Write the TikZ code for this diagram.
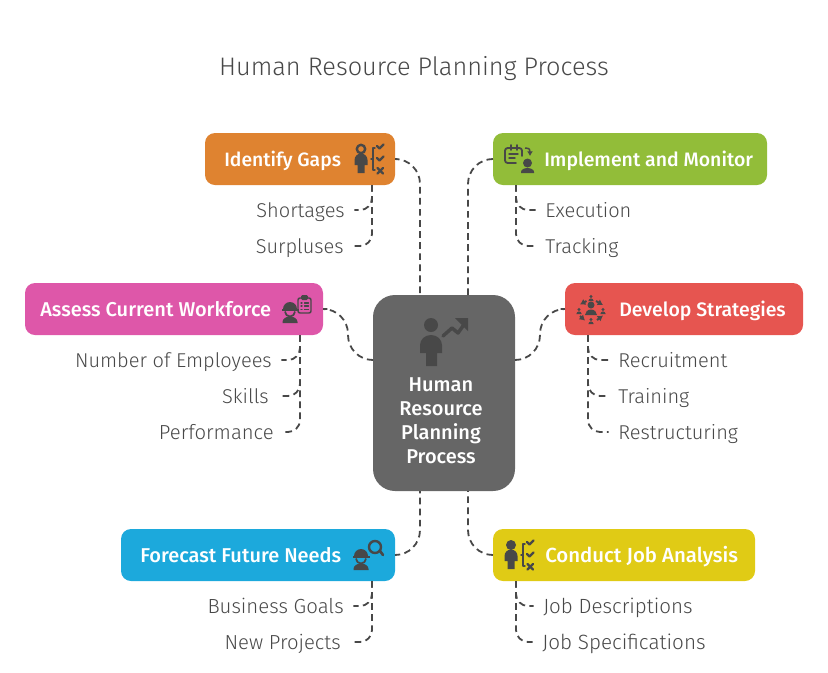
\documentclass[tikz,border=0pt]{standalone}
\usepackage{fontspec}
\setmainfont{Fira Sans Light}
\newfontfamily\boxfont{Fira Sans Medium}
\usepackage{tikz}
\usetikzlibrary{arrows,arrows.meta}

\definecolor{gapsc}{HTML}{DF8330}
\definecolor{monitorc}{HTML}{92BD39}
\definecolor{assessc}{HTML}{DE57A9}
\definecolor{strategyc}{HTML}{E65550}
\definecolor{forecastc}{HTML}{1CA9DC}
\definecolor{analysisc}{HTML}{E0CB15}
\definecolor{hubc}{HTML}{666666}
\definecolor{inkc}{HTML}{484848}

\tikzset{
	topicbox/.style={rounded corners=7.5pt,minimum height=39pt,inner sep=0pt},
	topictext/.style={font=\boxfont\fontsize{#1}{18}\selectfont,text=white,inner sep=0pt},
	topictext/.default=15,
	subtext/.style={font=\fontsize{#1}{18}\selectfont,text=inkc,inner sep=0pt},
	subtext/.default=15,
	link/.style={draw=inkc,line width=1.35pt,dash pattern=on 5pt off 3.3pt,rounded corners=18.7pt},
	sublink/.style={draw=inkc,line width=1.35pt,dash pattern=on 5pt off 3.3pt,rounded corners=9pt,shorten >=7pt},
	glyph/.style={fill=inkc,draw=none},
	glyphline/.style={draw=inkc,line width=1.1pt,fill=none,line cap=round,line join=round},
	ringarrow/.style={draw=inkc,line width=1.5pt,line cap=butt,-{Latex[length=4pt,width=5pt]}},
	pics/staff/.style={code={
		\path[glyph] (-6.5,16) -- (-6.5,11) arc[start angle=180,end angle=360,radius=6.5] -- (6.5,16) -- (3.5,16) -- (3.5,24) -- (-3.5,24) -- (-3.5,16) -- cycle;
		\draw[glyphline] (14,-1) -- (12,-1) -- (12,21) -- (14,21);
		\draw[glyphline] (12,10) -- (10,10);
		\draw[glyphline,line width=1.7pt] (16,-3) -- (18.5,-0.5) -- (22.5,-4.5);
		\draw[glyphline,line width=1.7pt] (16,9) -- (18.5,11.5) -- (22.5,7.5);
		\draw[glyphline,line width=1.7pt] (16.5,19) -- (22,24.5);
		\draw[glyphline,line width=1.7pt] (22,19) -- (16.5,24.5);
	}},
	pics/worker/.style={code={
		\path[glyph] (-7,-14) arc[start angle=180,end angle=360,radius=7] -- cycle;
		\path[glyph] (-8.5,-14.5) rectangle (8.5,-12.5);
		\draw[glyphline,line width=1.3pt,line cap=butt] (-5,-11.5) arc[start angle=180,end angle=0,radius=5];
		\path[glyph] (-7.5,0) -- (-7.5,-1) arc[start angle=180,end angle=360,x radius=7.5,y radius=5.5] -- (7.5,0) -- cycle;
	}},
	pics/tinyman/.style={code={
		\path[glyph] (0,-1.5) circle[radius=1.6];
		\path[glyph] (-2.6,3) arc[start angle=180,end angle=360,x radius=2.6,y radius=2.6] -- cycle;
	}}
}

\begin{document}
\begin{tikzpicture}[x=0.75pt,y=-0.75pt]
	\useasboundingbox (0,0) rectangle (828,672);

	\node[font=\fontsize{19}{23}\selectfont,text=inkc,inner sep=0pt,anchor=base] (title) at (414,75) {Human Resource Planning Process};

	% main boxes
	\node[topicbox,fill=hubc,rounded corners=16.5pt,minimum width=106.5pt,minimum height=147pt] (hub) at (444,393) {};
	\node[topicbox,fill=gapsc,minimum width=142.5pt] (gaps) at (300,159) {};
	\node[topicbox,fill=monitorc,minimum width=205.5pt] (monitor) at (630,159) {};
	\node[topicbox,fill=assessc,minimum width=223.5pt] (assess) at (174,309) {};
	\node[topicbox,fill=strategyc,minimum width=178.5pt] (strategy) at (684,309) {};
	\node[topicbox,fill=forecastc,minimum width=205.5pt] (forecast) at (258,555) {};
	\node[topicbox,fill=analysisc,minimum width=196.5pt] (analysis) at (624,555) {};

	% texts in the boxes
	\node[topictext=14.5,anchor=base west] (gapstext) at (224,166) {Identify Gaps};
	\node[topictext=14.6,anchor=base west] (monitortext) at (544,166) {Implement and Monitor};
	\node[topictext,anchor=base west] (assesstext) at (40,316) {Assess Current Workforce};
	\node[topictext=14.6,anchor=base west] (strategytext) at (619,316) {Develop Strategies};
	\node[topictext,anchor=base west] (forecasttext) at (140,562) {Forecast Future Needs};
	\node[topictext=15.3,anchor=base west] (analysistext) at (545,562) {Conduct Job Analysis};
	\node[topictext,align=center,font=\boxfont\fontsize{15}{18}\selectfont] (hubtext) at (441,421) {Human\\Resource\\Planning\\Process};

	% leaf texts
	\node[subtext,anchor=base east] (shortages) at (345,217) {Shortages};
	\node[subtext,anchor=base east] (surpluses) at (344,253) {Surpluses};
	\node[subtext,anchor=base west] (execution) at (545,217) {Execution};
	\node[subtext,anchor=base west] (tracking) at (545,253) {Tracking};
	\node[subtext,anchor=base east] (employees) at (272,367) {Number of Employees};
	\node[subtext,anchor=base east] (skills) at (269,403) {Skills};
	\node[subtext=15.2,anchor=base east] (performance) at (274,439) {Performance};
	\node[subtext,anchor=base west] (recruitment) at (618,367) {Recruitment};
	\node[subtext,anchor=base west] (training) at (618,403) {Training};
	\node[subtext,anchor=base west] (restructuring) at (618,439) {Restructuring};
	\node[subtext=15.3,anchor=base east] (goals) at (344,613) {Business Goals};
	\node[subtext=15.2,anchor=base east] (projects) at (341,649) {New Projects};
	\node[subtext=15.4,anchor=base west] (descriptions) at (543,613) {Job Descriptions};
	\node[subtext=15.5,anchor=base west] (specifications) at (542,649) {Job Specifications};

	% joints on the hub
	\coordinate (hubnl) at (420,295);
	\coordinate (hubnr) at (468,295);
	\coordinate (hubsl) at (420,491);
	\coordinate (hubsr) at (468,491);
	\coordinate (hubwa) at (373,360);
	\coordinate (hubea) at (515,360);
	\coordinate (assessbend) at (348,360);
	\coordinate (strategybend) at (540,360);

	% links to the hub
	\draw[link] ([xshift=1.5pt]gaps.east) -| (hubnl);
	\draw[link] (monitor.west) -| (hubnr);
	\draw[link] ([xshift=3pt]assess.east) -| (assessbend) -- (hubwa);
	\draw[link] ([xshift=-3pt]strategy.west) -| (strategybend) -- (hubea);
	\draw[link] ([xshift=1pt]forecast.east) -| (hubsl);
	\draw[link] (analysis.west) -| (hubsr);

	% trunks
	\coordinate (gapsfoot) at (372,185);
	\coordinate (monitorfoot) at (516,185);
	\coordinate (assessfoot) at (300,335);
	\coordinate (strategyfoot) at (588,335);
	\coordinate (forecastfoot) at (372,581);
	\coordinate (analysisfoot) at (516,581);

	\draw[sublink] (gapsfoot) |- (surpluses.east |- 0,246);
	\draw[sublink] (gapsfoot) |- (shortages.east |- 0,210);
	\draw[sublink] (monitorfoot) |- (tracking.west |- 0,246);
	\draw[sublink] (monitorfoot) |- (execution.west |- 0,210);
	\draw[sublink] (assessfoot) |- (performance.east |- 0,432);
	\draw[sublink] (assessfoot) |- (skills.east |- 0,396);
	\draw[sublink] (assessfoot) |- (employees.east |- 0,360);
	\draw[sublink] (strategyfoot) |- (restructuring.west |- 0,432);
	\draw[sublink] (strategyfoot) |- (training.west |- 0,396);
	\draw[sublink] (strategyfoot) |- (recruitment.west |- 0,360);
	\draw[sublink] (forecastfoot) |- (projects.east |- 0,642);
	\draw[sublink] (forecastfoot) |- (goals.east |- 0,606);
	\draw[sublink] (analysisfoot) |- (specifications.west |- 0,642);
	\draw[sublink] (analysisfoot) |- (descriptions.west |- 0,606);

	% icon of the hub
	\path[glyph] (431,325) circle[radius=7];
	\path[glyph] (420,353) -- (420,345) arc[start angle=180,end angle=360,x radius=11,y radius=10] -- (442,353) -- (437,353) -- (437,366) -- (426,366) -- (426,353) -- cycle;
	\draw[glyphline,line width=2.6pt] (443,336) -- (452,328) -- (458,333) -- (463,326);
	\path[glyph] (468,318) -- (468,331) -- (455,318) -- cycle;

	% icons of the boxes
	\draw[glyphline,line width=1.8pt] (361,149) circle[radius=4.2];
	\pic at (361,149) {staff};
	\path[glyph] (511,545) circle[radius=5];
	\pic at (511,545) {staff};
	\pic at (290,323) {worker};
	\pic at (361,570) {worker};

	% clipboard
	\draw[glyphline,rounded corners=1.5pt] (298,298) rectangle (311,313);
	\path[glyph,rounded corners=1pt] (301,295) rectangle (308,300);
	\draw[glyphline,line width=1pt] (301,303) -- (302,303) (304.5,303) -- (308.5,303) (301,306) -- (302,306) (304.5,306) -- (308.5,306) (301,309.5) -- (302,309.5) (304.5,309.5) -- (308.5,309.5);
	% lens
	\draw[glyphline,line width=1.8pt] (375,547) circle[radius=6];
	\draw[glyphline,line width=2pt] (380,551) -- (383,555);

	% calendar
	\draw[glyphline,line width=1.4pt,rounded corners=2pt] (516,163) -- (505,163) -- (505,148) -- (522,148) -- (522,156);
	\draw[glyphline,line width=1.4pt] (511,145) -- (511,150) (517,145) -- (517,150);
	\draw[glyphline] (509,154) -- (518,154) (509,158) -- (515,158);
	\draw[glyphline,line cap=butt,-{Latex[length=3.5pt,width=4.5pt]}] (525,148) .. controls (530,148) and (530,150) .. (530,156);
	\path[glyph] (527.5,163) circle[radius=4.5];
	\path[glyph] (521,173) -- (521,172) arc[start angle=180,end angle=360,x radius=6.5,y radius=4] -- (534,173) -- cycle;

	% people with a ring of arrows
	\path[glyph] (591,305) circle[radius=3.5];
	\path[glyph] (585,315) arc[start angle=180,end angle=360,x radius=6,y radius=5.5] -- cycle;
	\pic at (591,298) {tinyman};
	\pic at (603,311) {tinyman};
	\pic at (591,321) {tinyman};
	\pic at (579,311) {tinyman};
	\draw[ringarrow] (586.5,301) -- (580,304.5);
	\draw[ringarrow] (596,301) -- (603,305);
	\draw[ringarrow] (597,320) -- (603,315.5);
	\draw[ringarrow] (580,316) -- (585,320.5);
\end{tikzpicture}
\end{document}
